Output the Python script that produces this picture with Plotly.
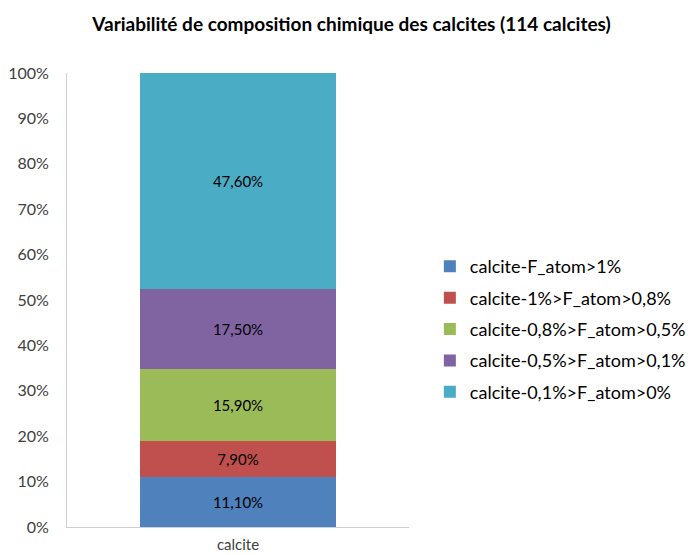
import plotly.graph_objects as go

# Composition classes (stack order, bottom to top)
categories = ["calcite"]
series_names = [
    "calcite-F_atom>1%",
    "calcite-1%>F_atom>0,8%",
    "calcite-0,8%>F_atom>0,5%",
    "calcite-0,5%>F_atom>0,1%",
    "calcite-0,1%>F_atom>0%",
]
series_values = [11.10, 7.90, 15.90, 17.50, 47.60]
series_colors = ["#4F81BD", "#C0504D", "#9BBB59", "#8064A2", "#4BACC6"]
tick_values = list(range(0, 101, 10))
tick_labels = [f"{v}%" for v in tick_values]

FONT = "Lato"

fig = go.Figure()
for i, (name, val, col) in enumerate(zip(series_names, series_values, series_colors)):
    label = f"{val:.2f}".replace(".", ",") + "%"
    fig.add_trace(go.Bar(
        x=categories,
        y=[val],
        name=name,
        marker=dict(color=col, line=dict(width=0)),
        text=[label],
        textposition="inside",
        insidetextanchor="middle",
        textfont=dict(color="#000000", size=15, family=FONT),
        width=0.573,
        legendgroup=f"g{i}",
    ))

fig.update_layout(
    barmode="stack",
    width=696,
    height=555,
    margin=dict(l=67, r=287, t=73, b=28, autoexpand=False),
    paper_bgcolor="white",
    plot_bgcolor="white",
    font=dict(family=FONT, color="#404040"),
    title=dict(
        text="<b>Variabilité de composition chimique des calcites (114 calcites)</b>",
        x=0.505,
        xanchor="center",
        y=0.957,
        yanchor="middle",
        font=dict(size=19, color="#000000", family=FONT),
    ),
    legend=dict(
        x=1.061,
        xanchor="left",
        y=0.436,
        yanchor="middle",
        traceorder="grouped",
        tracegroupgap=5,
        font=dict(size=18, color="#000000", family=FONT),
        itemwidth=30,
    ),
    xaxis=dict(
        showline=True,
        linecolor="#D0D0D0",
        linewidth=1,
        ticks="",
        ticklabelstandoff=4,
        tickfont=dict(size=15, color="#404040"),
        showgrid=False,
    ),
    yaxis=dict(
        range=[0, 100],
        tickvals=tick_values,
        ticktext=tick_labels,
        showline=True,
        linecolor="#D0D0D0",
        linewidth=1,
        ticks="",
        ticklabelstandoff=14,
        tickfont=dict(size=16, color="#404040"),
        showgrid=False,
        zeroline=False,
    ),
    showlegend=True,
)

fig.write_html("out.html")
